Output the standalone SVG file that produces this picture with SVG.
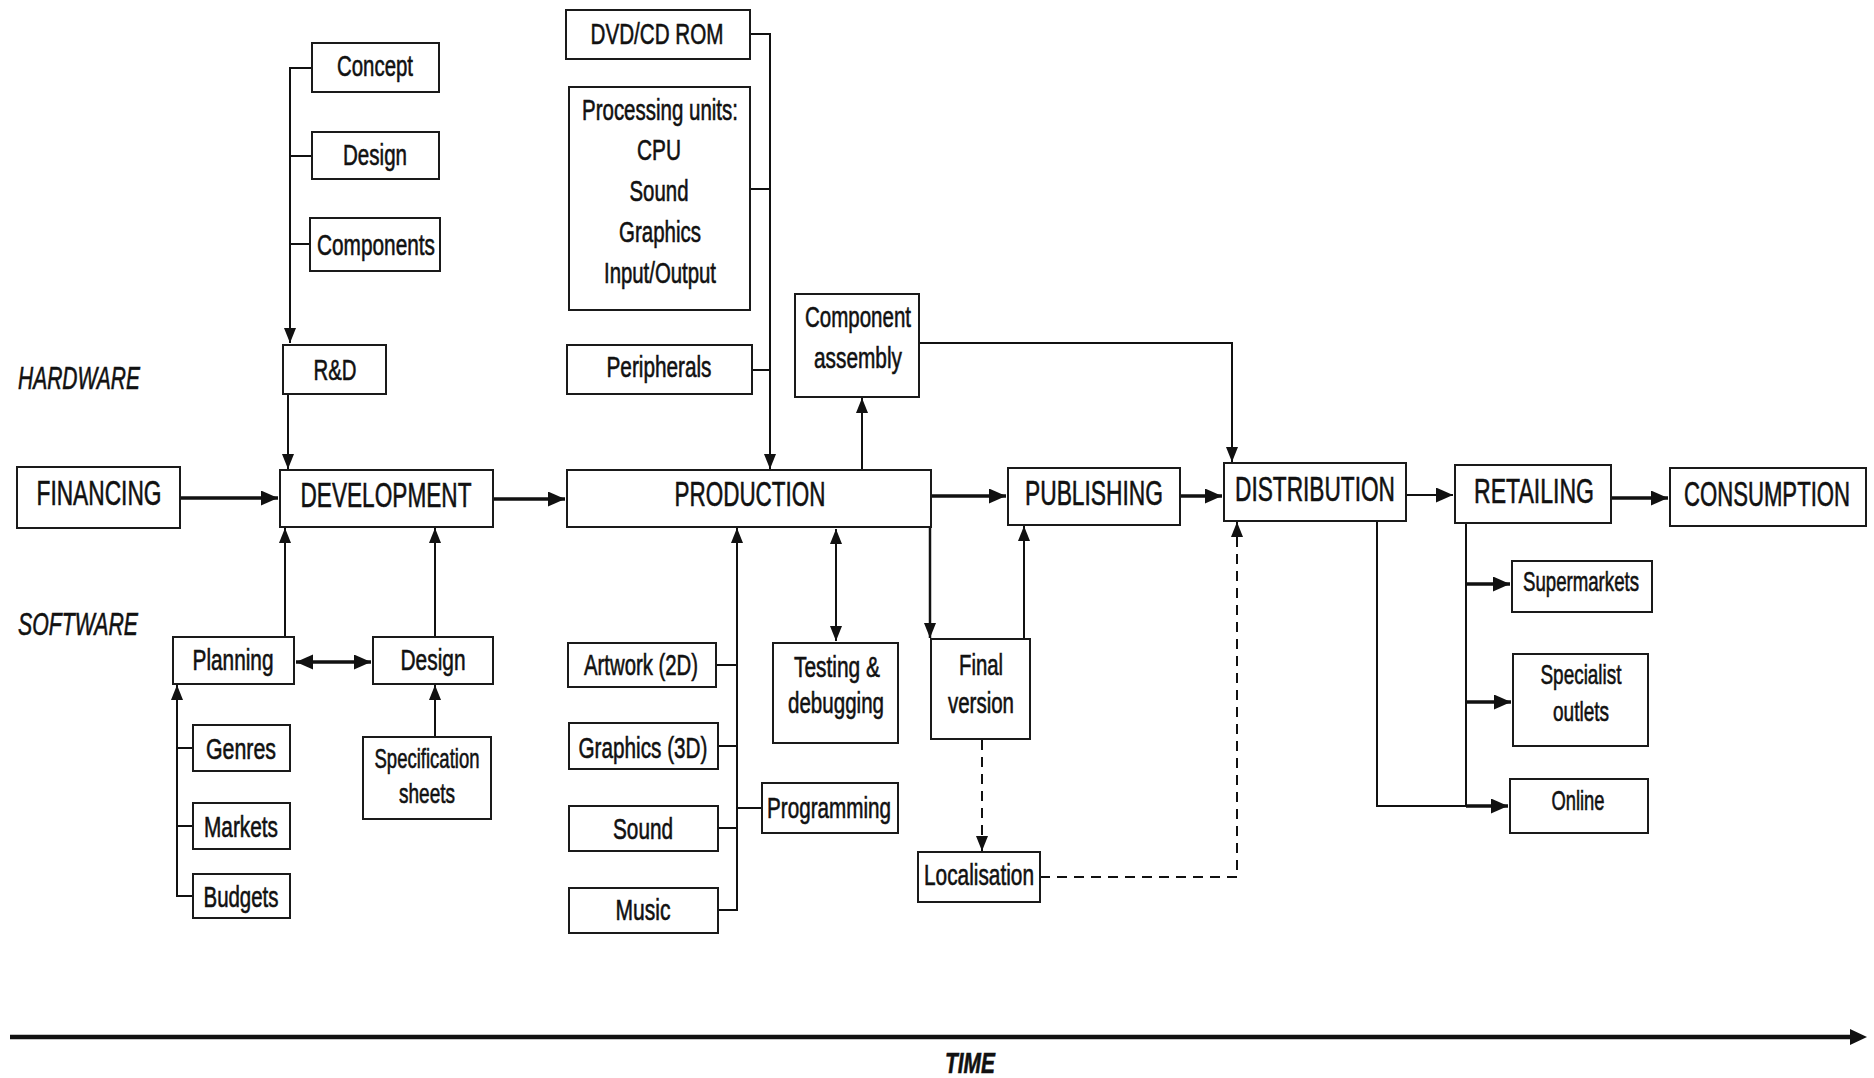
<svg xmlns="http://www.w3.org/2000/svg" width="1874" height="1078" viewBox="0 0 1874 1078">
<defs>
<marker id="ah" markerUnits="userSpaceOnUse" markerWidth="20" markerHeight="16" refX="17" refY="7.5" orient="auto-start-reverse"><path d="M0,0 L17,7.5 L0,15 z" fill="#111"/></marker>
<marker id="ahs" markerUnits="userSpaceOnUse" markerWidth="16" markerHeight="14" refX="15" refY="6" orient="auto-start-reverse"><path d="M0,0 L15,6 L0,12 z" fill="#111"/></marker>
<style>
rect{fill:#fff;stroke:#1a1a1a;stroke-width:2}
text{font-family:"Liberation Sans",Arial,sans-serif;fill:#111;stroke:#111;stroke-width:0.6;text-anchor:middle}
.big{font-size:35px}
.sm{font-size:30px}
.xs{font-size:28px}
.lab{font-size:31px;font-style:italic;text-anchor:start}
.c{fill:none;stroke:#111;stroke-width:2}
.t{fill:none;stroke:#111;stroke-width:3.5}
.d{fill:none;stroke:#111;stroke-width:2;stroke-dasharray:10 7}
</style>
</defs>
<rect x="0" y="0" width="1874" height="1078" style="fill:#fff;stroke:none"/>

<g id="connectors">
<path class="t" d="M180,498 H278" marker-end="url(#ah)"/>
<path class="t" d="M493,499 H565" marker-end="url(#ah)"/>
<path class="t" d="M931,496 H1006" marker-end="url(#ah)"/>
<path class="t" d="M1180,496 H1222" marker-end="url(#ah)"/>
<path class="c" d="M1406,495 H1453" marker-end="url(#ah)"/>
<path class="t" d="M1611,498 H1668" marker-end="url(#ah)"/>
<path class="c" d="M312,68 H290 V343" marker-end="url(#ahs)"/>
<path class="c" d="M312,156 H290 M310,244 H290"/>
<path class="c" d="M288,394 V469" marker-end="url(#ahs)"/>
<path class="c" d="M750,34 H770 V469" marker-end="url(#ahs)"/>
<path class="c" d="M750,189 H770 M752,370 H770"/>
<path class="c" d="M862,470 V398" marker-end="url(#ahs)"/>
<path class="c" d="M919,343 H1232 V462" marker-end="url(#ahs)"/>
<path class="c" d="M285,637 V528" marker-end="url(#ahs)"/>
<path class="t" d="M296,662 H371" marker-start="url(#ah)" marker-end="url(#ah)"/>
<path class="c" d="M435,637 V528" marker-end="url(#ahs)"/>
<path class="c" d="M435,737 V685" marker-end="url(#ahs)"/>
<path class="c" d="M193,896 H177 V685" marker-end="url(#ahs)"/>
<path class="c" d="M193,748 H177 M193,826 H177"/>
<path class="c" d="M718,910 H737 V528" marker-end="url(#ahs)"/>
<path class="c" d="M716,665 H737 M718,746 H737 M718,828 H737 M737,808 H762"/>
<path class="c" d="M836,529 V641" marker-start="url(#ahs)" marker-end="url(#ahs)"/>
<path class="c" d="M930,527 V638" marker-end="url(#ahs)" style="stroke-width:2.5"/>
<path class="c" d="M1024,639 V526" marker-end="url(#ahs)"/>
<path class="d" d="M982,740 V851" marker-end="url(#ahs)"/>
<path class="d" d="M1040,877 H1237 V522" marker-end="url(#ahs)"/>
<path class="c" d="M1377,521 V806 H1466"/>
<path class="c" d="M1466,523 V806"/>
<path class="t" d="M1466,584 H1510" marker-end="url(#ah)"/>
<path class="t" d="M1466,702 H1511" marker-end="url(#ah)"/>
<path class="t" d="M1466,806 H1508" marker-end="url(#ah)"/>
<path d="M10,1037 H1852" style="fill:none;stroke:#111;stroke-width:4.5"/>
<path d="M1850,1029 L1867,1037 L1850,1045 z" fill="#111"/>
</g>

<g id="labels">
<text class="lab" x="18" y="389" textLength="122" lengthAdjust="spacingAndGlyphs">HARDWARE</text>
<text class="lab" x="18" y="635" textLength="120" lengthAdjust="spacingAndGlyphs">SOFTWARE</text>
<text class="lab" x="970" y="1073" textLength="50" lengthAdjust="spacingAndGlyphs" style="text-anchor:middle;font-size:29px;font-weight:bold">TIME</text>
</g>

<g id="concept"><rect x="312" y="43" width="127" height="49"/><text class="sm" x="375" y="76" textLength="76" lengthAdjust="spacingAndGlyphs">Concept</text></g>
<g id="hw-design"><rect x="312" y="132" width="127" height="47"/><text class="sm" x="375" y="165" textLength="64" lengthAdjust="spacingAndGlyphs">Design</text></g>
<g id="components"><rect x="310" y="218" width="130" height="53"/><text class="sm" x="376" y="255" textLength="118" lengthAdjust="spacingAndGlyphs">Components</text></g>
<g id="rnd"><rect x="283" y="345" width="103" height="49"/><text class="sm" x="335" y="380" textLength="43" lengthAdjust="spacingAndGlyphs">R&amp;D</text></g>

<g id="financing"><rect x="17" y="467" width="163" height="61"/><text class="big" x="99" y="505" textLength="125" lengthAdjust="spacingAndGlyphs">FINANCING</text></g>
<g id="development"><rect x="280" y="470" width="213" height="57"/><text class="big" x="386" y="507" textLength="171" lengthAdjust="spacingAndGlyphs">DEVELOPMENT</text></g>
<g id="production"><rect x="567" y="470" width="364" height="57"/><text class="big" x="750" y="506" textLength="151" lengthAdjust="spacingAndGlyphs">PRODUCTION</text></g>
<g id="publishing"><rect x="1008" y="468" width="172" height="57"/><text class="big" x="1094" y="505" textLength="138" lengthAdjust="spacingAndGlyphs">PUBLISHING</text></g>
<g id="distribution"><rect x="1224" y="463" width="182" height="58"/><text class="big" x="1315" y="501" textLength="160" lengthAdjust="spacingAndGlyphs">DISTRIBUTION</text></g>
<g id="retailing"><rect x="1455" y="465" width="156" height="58"/><text class="big" x="1534" y="503" textLength="120" lengthAdjust="spacingAndGlyphs">RETAILING</text></g>
<g id="consumption"><rect x="1670" y="468" width="196" height="58"/><text class="big" x="1767" y="506" textLength="166" lengthAdjust="spacingAndGlyphs">CONSUMPTION</text></g>

<g id="dvd"><rect x="566" y="10" width="184" height="49"/><text class="sm" x="657" y="44" textLength="133" lengthAdjust="spacingAndGlyphs">DVD/CD ROM</text></g>
<g id="processing"><rect x="569" y="87" width="181" height="223"/>
<text class="sm" x="660" y="120" textLength="156" lengthAdjust="spacingAndGlyphs">Processing units:</text>
<text class="sm" x="659" y="160" textLength="44" lengthAdjust="spacingAndGlyphs">CPU</text>
<text class="sm" x="659" y="201" textLength="59" lengthAdjust="spacingAndGlyphs">Sound</text>
<text class="sm" x="660" y="242" textLength="82" lengthAdjust="spacingAndGlyphs">Graphics</text>
<text class="sm" x="660" y="283" textLength="112" lengthAdjust="spacingAndGlyphs">Input/Output</text></g>
<g id="peripherals"><rect x="567" y="345" width="185" height="49"/><text class="sm" x="659" y="377" textLength="105" lengthAdjust="spacingAndGlyphs">Peripherals</text></g>
<g id="assembly"><rect x="795" y="294" width="124" height="103"/><text class="sm" x="858" y="327" textLength="106" lengthAdjust="spacingAndGlyphs">Component</text><text class="sm" x="858" y="368" textLength="88" lengthAdjust="spacingAndGlyphs">assembly</text></g>

<g id="planning"><rect x="173" y="637" width="121" height="47"/><text class="sm" x="233" y="670" textLength="81" lengthAdjust="spacingAndGlyphs">Planning</text></g>
<g id="sw-design"><rect x="373" y="637" width="120" height="47"/><text class="sm" x="433" y="670" textLength="65" lengthAdjust="spacingAndGlyphs">Design</text></g>
<g id="spec"><rect x="363" y="737" width="128" height="82"/><text class="xs" x="427" y="768" textLength="105" lengthAdjust="spacingAndGlyphs">Specification</text><text class="xs" x="427" y="803" textLength="56" lengthAdjust="spacingAndGlyphs">sheets</text></g>
<g id="genres"><rect x="193" y="725" width="97" height="46"/><text class="sm" x="241" y="759" textLength="70" lengthAdjust="spacingAndGlyphs">Genres</text></g>
<g id="markets"><rect x="193" y="803" width="97" height="46"/><text class="sm" x="241" y="837" textLength="74" lengthAdjust="spacingAndGlyphs">Markets</text></g>
<g id="budgets"><rect x="193" y="874" width="97" height="44"/><text class="sm" x="241" y="907" textLength="75" lengthAdjust="spacingAndGlyphs">Budgets</text></g>

<g id="artwork"><rect x="568" y="643" width="148" height="44"/><text class="sm" x="641" y="675" textLength="114" lengthAdjust="spacingAndGlyphs">Artwork (2D)</text></g>
<g id="graphics3d"><rect x="569" y="723" width="149" height="46"/><text class="sm" x="643" y="758" textLength="129" lengthAdjust="spacingAndGlyphs">Graphics (3D)</text></g>
<g id="sound"><rect x="569" y="806" width="149" height="45"/><text class="sm" x="643" y="839" textLength="60" lengthAdjust="spacingAndGlyphs">Sound</text></g>
<g id="music"><rect x="569" y="888" width="149" height="45"/><text class="sm" x="643" y="920" textLength="55" lengthAdjust="spacingAndGlyphs">Music</text></g>
<g id="programming"><rect x="762" y="783" width="136" height="50"/><text class="sm" x="829" y="818" textLength="124" lengthAdjust="spacingAndGlyphs">Programming</text></g>
<g id="testing"><rect x="773" y="643" width="125" height="100"/><text class="sm" x="837" y="677" textLength="86" lengthAdjust="spacingAndGlyphs">Testing &amp;</text><text class="sm" x="836" y="713" textLength="96" lengthAdjust="spacingAndGlyphs">debugging</text></g>
<g id="final"><rect x="931" y="639" width="99" height="100"/><text class="sm" x="981" y="675" textLength="44" lengthAdjust="spacingAndGlyphs">Final</text><text class="sm" x="981" y="713" textLength="66" lengthAdjust="spacingAndGlyphs">version</text></g>
<g id="localisation"><rect x="918" y="852" width="122" height="50"/><text class="sm" x="979" y="885" textLength="110" lengthAdjust="spacingAndGlyphs">Localisation</text></g>

<g id="supermarkets"><rect x="1512" y="561" width="140" height="51"/><text class="xs" x="1581" y="591" textLength="116" lengthAdjust="spacingAndGlyphs">Supermarkets</text></g>
<g id="specialist"><rect x="1513" y="654" width="135" height="92"/><text class="xs" x="1581" y="684" textLength="81" lengthAdjust="spacingAndGlyphs">Specialist</text><text class="xs" x="1581" y="721" textLength="56" lengthAdjust="spacingAndGlyphs">outlets</text></g>
<g id="online"><rect x="1510" y="779" width="138" height="54"/><text class="xs" x="1578" y="810" textLength="53" lengthAdjust="spacingAndGlyphs">Online</text></g>
</svg>
